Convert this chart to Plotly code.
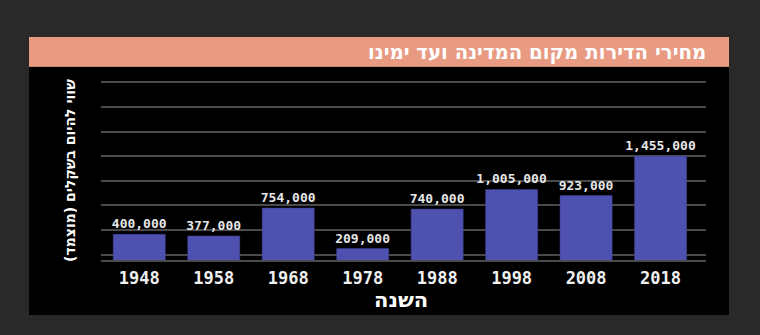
import plotly.graph_objects as go

# ---- data ----
years = ["1948", "1958", "1968", "1978", "1988", "1998", "2008", "2018"]
prices = [400000, 377000, 754000, 209000, 740000, 1005000, 923000, 1455000]
price_labels = [f"{v:,}" for v in prices]

title_text = "מחירי הדירות מקום המדינה ועד ימינו"
x_title = "השנה"
y_title = "שווי להיום בשקלים (מוצמד)"

# ---- layout geometry (pixels) ----
W, H = 760, 335
PL, PR, PT, PB = 101, 706, 80, 260  # plot area edges
pw, ph = PR - PL, PB - PT


def px_x(px):
    return (px - PL) / pw


def px_y(py):
    return (PB - py) / ph


BAR_COLOR = "#4f51b0"
GRID = "#4a4a4a"

fig = go.Figure()
fig.add_trace(go.Bar(
    x=years, y=prices,
    text=price_labels,
    textposition="outside",
    constraintext="none",
    cliponaxis=False,
    textfont=dict(family="DejaVu Sans Mono", size=13, color="#e6e6e6", weight="bold"),
    marker=dict(color=BAR_COLOR, line=dict(color="#3d3f8f", width=0.5)),
    hoverinfo="skip",
))

y0, y1 = 54000, 2479900
fig.update_layout(
    width=W, height=H,
    margin=dict(l=PL, r=W - PR, t=PT, b=H - PB, pad=0),
    paper_bgcolor="#292929",
    plot_bgcolor="rgba(0,0,0,0)",
    showlegend=False,
    bargap=0.3,
    xaxis=dict(
        type="category",
        range=[-0.514, 7.61],
        showgrid=False,
        showline=True, linecolor=GRID, linewidth=2,
        ticks="", ticklabelstandoff=2,
        tickfont=dict(family="DejaVu Sans Mono", size=17, color="#f0f0f0", weight="bold"),
        fixedrange=True,
    ),
    yaxis=dict(
        range=[y0, y1],
        tick0=458300, dtick=331500,
        showticklabels=False,
        showgrid=True, gridcolor=GRID, gridwidth=2,
        zeroline=False,
        fixedrange=True,
    ),
    shapes=[
        dict(type="rect", xref="paper", yref="paper", layer="below",
             x0=px_x(29), x1=px_x(729), y0=px_y(315), y1=px_y(67),
             fillcolor="#000000", line=dict(width=0)),
        dict(type="rect", xref="paper", yref="paper", layer="below",
             x0=px_x(29), x1=px_x(729), y0=px_y(67), y1=px_y(37),
             fillcolor="#e89a82", line=dict(width=0)),
        dict(type="line", xref="paper", yref="paper", layer="below",
             x0=px_x(29), x1=px_x(729), y0=px_y(66.5), y1=px_y(66.5),
             line=dict(color="#c98570", width=1)),
    ],
    annotations=[
        dict(text=title_text, xref="paper", yref="paper",
             x=px_x(708), y=px_y(52.5), xanchor="right", yanchor="middle",
             showarrow=False,
             font=dict(family="DejaVu Sans", size=19.7, color="#ffffff", weight="bold")),
        dict(text=x_title, xref="paper", yref="paper",
             x=px_x(401), y=px_y(300), xanchor="center", yanchor="middle",
             showarrow=False,
             font=dict(family="DejaVu Sans", size=21, color="#ffffff", weight="bold")),
        dict(text=y_title, xref="paper", yref="paper",
             x=px_x(70), y=px_y(171), xanchor="center", yanchor="middle",
             textangle=-90, showarrow=False,
             font=dict(family="DejaVu Sans", size=14, color="#ffffff", weight="bold")),
    ],
)

fig.write_html("out.html", config={"displayModeBar": False})
